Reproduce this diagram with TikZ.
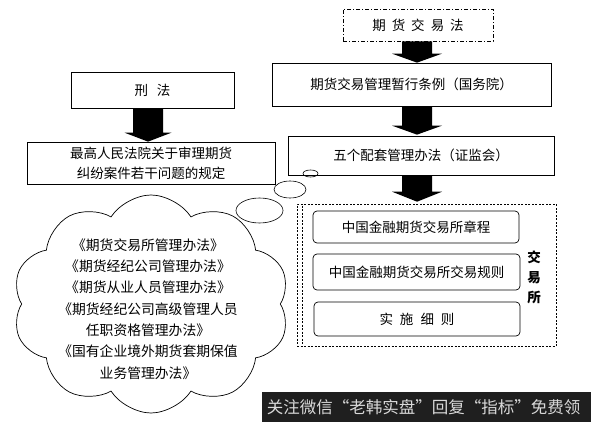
\documentclass[tikz,border=0pt]{standalone}
\usepackage{fontspec}
\setmainfont{Noto Sans CJK SC}
\usetikzlibrary{shapes.symbols,calc}
\newcommand\blockarr[4]{%
  \fill let \p1=#1, \p2=#2 in
    (\x1-15pt,\y1) -- (\x1+15pt,\y1) -- (\x1+15pt,\y2+#4) -- (\x1+#3,\y2+#4)
    -- (\x1,\y2) -- (\x1-#3,\y2+#4) -- (\x1-15pt,\y2+#4) -- cycle;}
\begin{document}
\begin{tikzpicture}[x=1pt,y=-1pt,
  box/.style={draw, line width=0.7pt, inner sep=0pt, align=center,
    font=\fontsize{13.5}{20}\selectfont},
  rbox/.style={box, rounded corners=4pt},
  dsh/.style={line width=0.6pt, dash pattern=on 2pt off 1.5pt},
  bub/.style={line width=0.6pt}]
\fill[white] (0,0) rectangle (591,422);
\useasboundingbox (0,0) rectangle (591,422);

\node[box, minimum width=150pt, minimum height=32pt,
  dash pattern=on 4pt off 2pt on 1pt off 2pt] (qhjyf) at (418,25)
  {期\hspace{6pt}货\hspace{6pt}交\hspace{6pt}易\hspace{6pt}法};
\node[box, minimum width=279pt, minimum height=43pt] (tiaoli) at (411.5,84.5)
  {期货交易管理暂行条例（国务院）};
\node[box, minimum width=266pt, minimum height=39pt] (wuge) at (421,155.5)
  {五个配套管理办法（证监会）};
\node[box, minimum width=163pt, minimum height=36pt] (xingfa) at (152.5,90)
  {刑\hspace{9pt}法};
\node[box, minimum width=248pt, minimum height=42pt] (zuigao) at (151,163)
  {最高人民法院关于审理期货\\纠纷案件若干问题的规定};

\node[draw, dsh, minimum width=259pt, minimum height=142pt, inner sep=0pt]
  (jysbox) at (426.5,275) {};
\draw[dsh] ($(jysbox.north west)+(6,2)$) -- ($(jysbox.south west)+(6,-2)$);
\node[rbox, minimum width=206pt, minimum height=32pt] (zc) at (416,227)
  {中国金融期货交易所章程};
\node[rbox, minimum width=207pt, minimum height=36pt] (gz) at (416.5,272)
  {中国金融期货交易所交易规则};
\node[rbox, minimum width=206pt, minimum height=34pt] (ss) at (417,319)
  {实\hspace{7pt}施\hspace{7pt}细\hspace{7pt}则};
\node[font=\bfseries\fontsize{13.5}{20}\selectfont, align=center, inner sep=0pt]
  (jys) at (534,277) {交\\易\\所};

\node[cloud, draw, line width=0.7pt, cloud puffs=10, cloud puff arc=115,
  aspect=1.27, minimum width=277pt, minimum height=218pt, inner sep=0pt]
  (cloud) at (151,304) {};
\node[align=center, inner sep=0pt, font=\fontsize{13.8}{21.3}\selectfont]
  (ctext) at (148,309)
  {《期货交易所管理办法》\\《期货经纪公司管理办法》\\《期货从业人员管理办法》\\%
   《期货经纪公司高级管理人员\\任职资格管理办法》\\《国有企业境外期货套期保值\\业务管理办法》};

\draw[bub] (310.5,173.5) ellipse (7.5 and 3.5);
\draw[bub] (290,189.5) ellipse (16 and 8.5);
\draw[bub] (259.5,210.5) ellipse (23.5 and 12.5);

\blockarr{([xshift=-1pt]qhjyf.south)}{(tiaoli.north)}{25pt}{9pt}
\blockarr{([xshift=5.5pt]tiaoli.south)}{([yshift=1pt]wuge.north)}{25pt}{9pt}
\blockarr{([xshift=-4pt]wuge.south)}{([yshift=2pt]jysbox.north)}{25pt}{10pt}
\blockarr{([xshift=-4.5pt]xingfa.south)}{(zuigao.north)}{23.5pt}{9pt}

\fill[black!88] (262,392) rectangle (591,422);
\node[text=white!85!black, inner sep=0pt, font=\fontsize{16.5}{18}\selectfont]
  (wm) at (423.5,407) {关注微信“老韩实盘”回复“指标”免费领};
\end{tikzpicture}
\end{document}
